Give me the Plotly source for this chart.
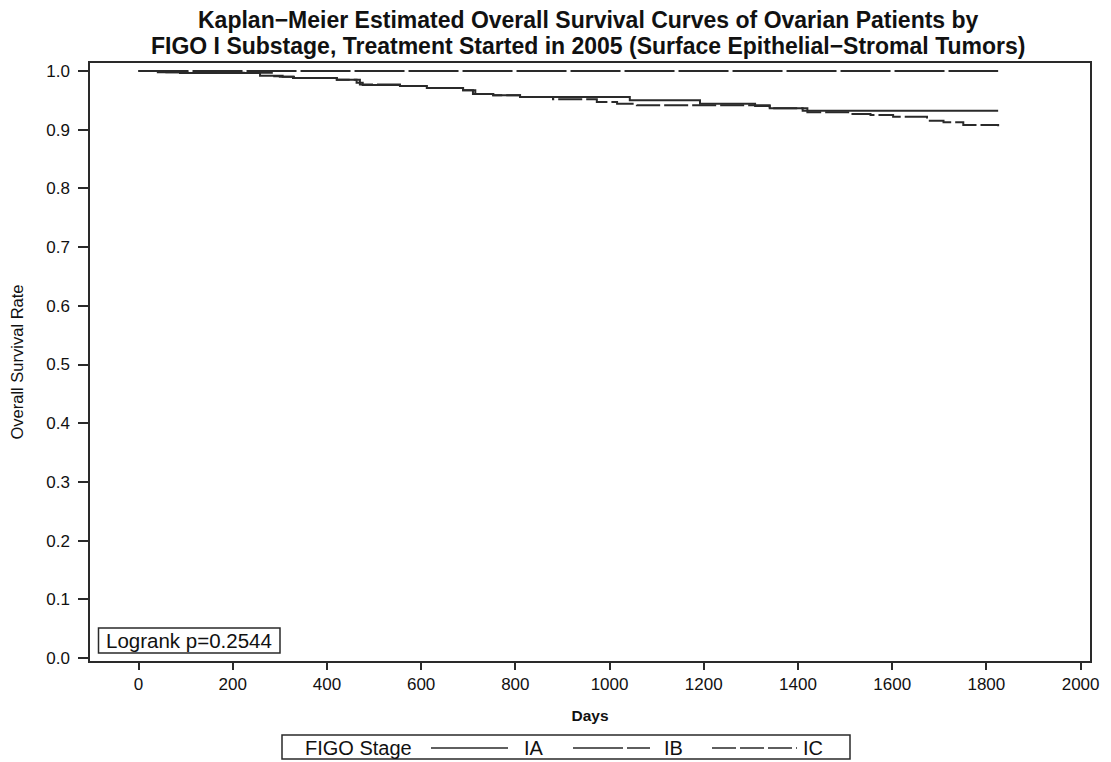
import plotly.graph_objects as go

# Kaplan-Meier step data
ia_days = [0, 41, 88, 258, 306, 328, 421, 463, 476, 555, 612, 689, 710, 753, 810, 1043, 1192, 1309, 1340, 1410, 1825]
ia_surv = [1.0, 0.998, 0.9966, 0.992, 0.990, 0.988, 0.985, 0.980, 0.976, 0.9745, 0.971, 0.967, 0.961, 0.9586, 0.9557, 0.950, 0.944, 0.9404, 0.9364, 0.9324, 0.9324]

ib_days = [0, 1825]
ib_surv = [1.0, 1.0]

ic_days = [0, 50, 100, 283, 300, 330, 421, 470, 555, 620, 689, 715, 753, 810, 880, 973, 1016, 1058, 1340, 1420, 1510, 1554, 1602, 1674, 1709, 1751, 1825]
ic_surv = [1.0, 0.998, 0.997, 0.991, 0.990, 0.988, 0.985, 0.977, 0.9745, 0.971, 0.967, 0.961, 0.9586, 0.9557, 0.9518, 0.947, 0.944, 0.9415, 0.9364, 0.9296, 0.9267, 0.925, 0.922, 0.9153, 0.9126, 0.908, 0.906]

x_ticks = [0, 200, 400, 600, 800, 1000, 1200, 1400, 1600, 1800, 2000]
y_ticks = [0.0, 0.1, 0.2, 0.3, 0.4, 0.5, 0.6, 0.7, 0.8, 0.9, 1.0]

title_line1 = "Kaplan\u2212Meier Estimated Overall Survival Curves of Ovarian Patients by"
title_line2 = "FIGO I Substage, Treatment Started in 2005 (Surface Epithelial\u2212Stromal Tumors)"
legend_title = "FIGO Stage"
series_names = ["IA", "IB", "IC"]
series_dash = ["solid", "50px,4px", "24px,4px"]
logrank_text = "Logrank p=0.2544"

INK = "#2a2a2a"
TXT = "#111111"
FONT = "Liberation Sans, Arial, sans-serif"

fig = go.Figure()
for name, xs, ys, dash in zip(series_names, [ia_days, ib_days, ic_days],
                              [ia_surv, ib_surv, ic_surv], series_dash):
    fig.add_trace(go.Scatter(x=xs, y=ys, mode="lines", name=name, showlegend=False,
                             line=dict(shape="hv", color=INK, width=2, dash=dash)))

axis_common = dict(showline=True, linecolor=INK, linewidth=2, mirror=True,
                   ticks="outside", tickwidth=2, tickcolor=INK,
                   showgrid=False, zeroline=False, automargin=False)

# page layout (page pixels): plot area x 90..1090, y 63..661
# the page body adds an 8px offset, so the figure itself is 8px smaller
def px(x):
    return (x - 90) / 1000.0

def py(y):
    return (661 - y) / 598.0

annotations = [
    dict(text="<b>" + title_line1 + "</b>", xref="paper", yref="paper",
         x=0.498, y=py(20.5), xanchor="center", yanchor="middle", showarrow=False,
         font=dict(size=23, family=FONT, color=TXT)),
    dict(text="<b>" + title_line2 + "</b>", xref="paper", yref="paper",
         x=0.498, y=py(45.5), xanchor="center", yanchor="middle", showarrow=False,
         font=dict(size=23, family=FONT, color=TXT)),
    dict(text=logrank_text, xref="paper", yref="paper",
         x=px(104), y=py(640.5), xanchor="left", yanchor="middle",
         showarrow=False, font=dict(size=20.5, family=FONT, color=TXT)),
]

shapes = [dict(type="rect", xref="paper", yref="paper",
               x0=px(98.5), x1=px(280), y0=py(653), y1=py(628),
               line=dict(color=INK, width=1.5), fillcolor="rgba(0,0,0,0)", layer="above")]

# manual legend box
leg_y = py(748)
shapes.append(dict(type="rect", xref="paper", yref="paper",
                   x0=px(282), x1=px(850), y0=py(759), y1=py(735),
                   line=dict(color=INK, width=1.5), fillcolor="white", layer="above"))
annotations.append(dict(text=legend_title, xref="paper", yref="paper", x=px(303), y=leg_y,
                        xanchor="left", yanchor="middle", showarrow=False,
                        font=dict(size=20, family=FONT, color=TXT)))
leg_lines = [(431, 508), (573, 650), (712, 797)]
leg_labels = [522, 662, 801]
for (x0, x1), lx, name, dash in zip(leg_lines, leg_labels, series_names, series_dash):
    shapes.append(dict(type="line", xref="paper", yref="paper",
                       x0=px(x0), x1=px(x1), y0=leg_y, y1=leg_y,
                       line=dict(color=INK, width=1.5, dash=dash), layer="above"))
    annotations.append(dict(text=name, xref="paper", yref="paper", x=px(lx), y=leg_y,
                            xanchor="left", yanchor="middle", showarrow=False,
                            font=dict(size=20, family=FONT, color=TXT)))

fig.update_layout(
    width=1103, height=754,
    paper_bgcolor="white", plot_bgcolor="white",
    margin=dict(l=82, r=21, t=55, b=101),
    font=dict(family=FONT, color=TXT),
    showlegend=False,
    xaxis=dict(range=[-103, 2020], tickvals=x_ticks,
               ticktext=[str(v) for v in x_ticks], ticklen=7,
               tickfont=dict(size=17),
               title=dict(text="<b>Days</b>", font=dict(size=15.5), standoff=17),
               **axis_common),
    yaxis=dict(range=[-0.005, 1.0136], tickvals=y_ticks,
               ticktext=["%.1f\u00a0" % v for v in y_ticks], ticklen=10,
               tickfont=dict(size=17),
               title=dict(text="Overall Survival Rate", font=dict(size=16.5), standoff=20),
               **axis_common),
    annotations=annotations,
    shapes=shapes,
)

fig.write_html("out.html")
